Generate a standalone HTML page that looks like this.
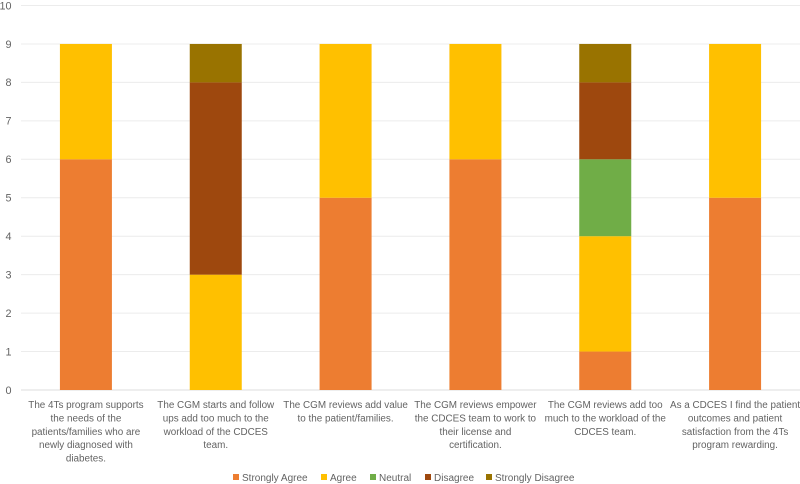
<!DOCTYPE html>
<html>
<head>
<meta charset="utf-8">
<style>
html,body{margin:0;padding:0;background:#fff}
svg{display:block}
text{font-family:"Liberation Sans",sans-serif;fill:#636363}
</style>
</head>
<body>
<svg id="chart" width="800" height="484" viewBox="0 0 800 484" xmlns="http://www.w3.org/2000/svg">
<rect width="800" height="484" fill="#ffffff"></rect>
</svg>
<script>
const categories = [
  ["The 4Ts program supports","the needs of the","patients/families who are","newly diagnosed with","diabetes."],
  ["The CGM starts and follow","ups add too much to the","workload of the CDCES","team."],
  ["The CGM reviews add value","to the patient/families."],
  ["The CGM reviews empower","the CDCES team to work to","their license and","certification."],
  ["The CGM reviews add too","much to the workload of the","CDCES team."],
  ["As a CDCES I find the patient","outcomes and patient","satisfaction from the 4Ts","program rewarding."]
];
const seriesNames = ["Strongly Agree","Agree","Neutral","Disagree","Strongly Disagree"];
const seriesColors = ["#ed7d31","#ffc000","#70ad47","#9e480e","#997300"];
const stronglyAgree = [6,0,5,6,1,5];
const agree = [3,3,4,3,3,4];
const neutral = [0,0,0,0,2,0];
const disagree = [0,5,0,0,2,0];
const stronglyDisagree = [0,1,0,0,1,0];
const yTicks = [0,1,2,3,4,5,6,7,8,9,10];

const seriesValues = [stronglyAgree,agree,neutral,disagree,stronglyDisagree];
const svg = document.getElementById('chart');
const NS = 'http://www.w3.org/2000/svg';
const plotLeft = 21, plotRight = 800, plotBottom = 390, plotTop = 5.5;
const yMax = yTicks[yTicks.length-1];
const band = (plotRight-plotLeft)/categories.length;
const barWidth = 52;
function yScale(v){return plotBottom-(v/yMax)*(plotBottom-plotTop);}
function xCenter(i){return plotLeft+band*(i+0.5);}
function make(tag,attrs){
  const el=document.createElementNS(NS,tag);
  for(const k in attrs){el.setAttribute(k,attrs[k]);}
  svg.appendChild(el);
  return el;
}
yTicks.forEach(function(t){
  const line=make('line',{x1:plotLeft,x2:plotRight,y1:yScale(t),y2:yScale(t),stroke:t===0?'#dcdcdc':'#ececec','stroke-width':1});
  
  
  const label=make('text',{x:11.5,y:yScale(t)+3.8,'text-anchor':'end','font-size':10.8});
  label.textContent=t;
  
  
});
categories.forEach(function(lines,i){
  let cum=0;
  seriesValues.forEach(function(vals,s){
    const v=vals[i];
    if(v>0){
      const r=make('rect',{x:xCenter(i)-barWidth/2,y:yScale(cum+v),width:barWidth,height:yScale(cum)-yScale(cum+v),fill:seriesColors[s]});
      
      
    }
    cum+=v;
  });
  lines.forEach(function(line,j){
    const t=make('text',{x:xCenter(i),y:408+j*13.4,'text-anchor':'middle','font-size':9.9});
    t.textContent=line;
    
    
  });
});
const legendSwatchX = [233,321,370,425,486];
const legendTextX = [242,330,379,434,495];
seriesNames.forEach(function(name,s){
  const r=make('rect',{x:legendSwatchX[s],y:474,width:6,height:6,fill:seriesColors[s]});
  
  
  const t=make('text',{x:legendTextX[s],y:481,'font-size':10});
  t.textContent=name;
  
  
});
</script>
</body>
</html>
